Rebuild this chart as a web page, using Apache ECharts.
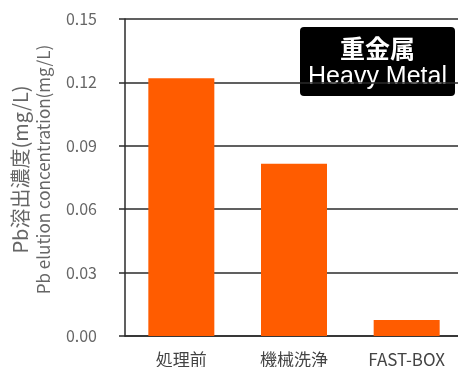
<!DOCTYPE html>
<html>
<head>
<meta charset="utf-8">
<script src="https://cdn.jsdelivr.net/npm/echarts@6/dist/echarts.min.js"></script>
<style>
  html, body { margin: 0; padding: 0; background: #fff; }
  #chart { width: 458px; height: 367px; }
</style>
</head>
<body>
<div id="chart"></div>
<script>
// Pb elution concentration by treatment method
const categories = ['処理前', '機械洗浄', 'FAST-BOX'];
const pbValues = [0.122, 0.0815, 0.0076];
const yTicks = { min: 0, max: 0.15, interval: 0.03 };
const badgeLines = ['重金属', 'Heavy Metal'];
const axisNameLines = ['Pb溶出濃度(mg/L)', 'Pb elution concentration(mg/L)'];

const FONT = '"Noto Sans CJK JP", "Liberation Sans", Arial, sans-serif';
const chart = echarts.init(document.getElementById('chart'), null, { renderer: 'canvas' });

chart.setOption({
  animation: false,
  backgroundColor: '#ffffff',
  grid: { left: 125, top: 19, width: 338, height: 317, containLabel: false, outerBoundsMode: 'none' },
  xAxis: {
    type: 'category',
    data: categories,
    axisLine: { show: true, lineStyle: { color: '#2b2b2b', width: 1.5 } },
    axisTick: { show: false },
    axisLabel: { margin: 15, color: '#444', fontSize: 17, fontFamily: FONT }
  },
  yAxis: {
    type: 'value',
    min: yTicks.min,
    max: yTicks.max,
    interval: yTicks.interval,
    name: '{a|' + axisNameLines[0] + '}\n{b|' + axisNameLines[1] + '}',
    nameLocation: 'middle',
    nameRotate: 90,
    nameGap: 70,
    nameTextStyle: {
      color: '#666',
      fontFamily: FONT,
      padding: [0, 0, 0, 16],
      rich: {
        a: { fontSize: 20, lineHeight: 23, fontFamily: FONT, color: '#666' },
        b: { fontSize: 17, lineHeight: 23, fontFamily: FONT, color: '#666' }
      }
    },
    axisLine: { show: true, lineStyle: { color: '#2b2b2b', width: 1.5 } },
    axisTick: { show: true, inside: false, length: 6, lineStyle: { color: '#2b2b2b', width: 1.5 } },
    axisLabel: {
      margin: 28,
      color: '#666',
      fontSize: 16,
      fontFamily: FONT,
      formatter: v => v.toFixed(2)
    },
    splitLine: { show: true, lineStyle: { color: '#2b2b2b', width: 1.5 } }
  },
  series: [{
    type: 'bar',
    data: pbValues,
    barWidth: 66,
    itemStyle: { color: '#ff5c00' }
  }],
  graphic: [{
    type: 'group',
    left: 300,
    top: 27,
    children: [
      { type: 'rect', shape: { x: 0, y: 0, width: 155, height: 69, r: 4 }, style: { fill: '#000' } },
      { type: 'text', x: 77.5, y: 21, style: { text: badgeLines[0], fill: '#fff', font: 'bold 25px ' + FONT, align: 'center', verticalAlign: 'middle' } },
      { type: 'text', x: 77.5, y: 50, style: { text: badgeLines[1], fill: '#fff', font: '25px "Liberation Sans", Arial, sans-serif', align: 'center', verticalAlign: 'middle' } }
    ]
  }]
});
</script>
</body>
</html>
